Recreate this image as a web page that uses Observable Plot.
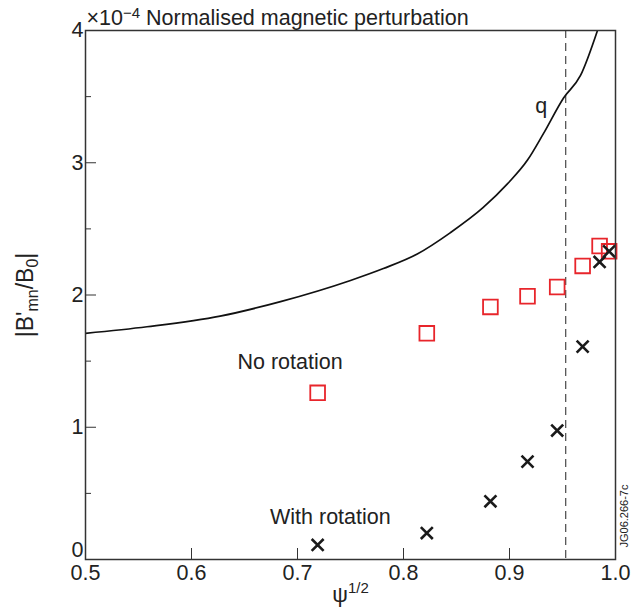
<!DOCTYPE html>
<html><head><meta charset="utf-8">
<script src="https://cdn.jsdelivr.net/npm/d3@7"></script>
<script src="https://cdn.jsdelivr.net/npm/@observablehq/plot@0.6"></script>
<style>body{margin:0;background:#fff} svg{font-family:"Liberation Sans",Arial,Helvetica,sans-serif}</style>
</head><body><div id="chart"></div>
<script>
// data
const psiPoints = [0.719, 0.822, 0.882, 0.917, 0.945, 0.969, 0.985, 0.994];
const bNoRotation = [1.26, 1.71, 1.91, 1.99, 2.06, 2.22, 2.37, 2.33];
const bWithRotation = [0.11, 0.20, 0.44, 0.74, 0.975, 1.61, 2.25, 2.33];
const psiQ = [0.5, 0.558, 0.627, 0.684, 0.75, 0.781, 0.813, 0.844, 0.875, 0.898, 0.917, 0.932, 0.951, 0.967, 0.983];
const qCurve = [1.71, 1.76, 1.84, 1.95, 2.11, 2.20, 2.31, 2.47, 2.66, 2.84, 3.02, 3.22, 3.49, 3.66, 4.0];
const dashedPsi = [0.953];
const xTicks = [0.5, 0.6, 0.7, 0.8, 0.9, 1.0];
const yTicks = [1, 2, 3, 4];
const yZeroTick = [0];
const yMinorTicks = [0.5, 1.5, 2.5, 3.5];
const annotations = [
  {x: 0.693, y: 1.49, text: "No rotation"},
  {x: 0.731, y: 0.32, text: "With rotation"},
  {x: 0.930, y: 3.43, text: "q"}
];

const squares = psiPoints.map((x, i) => ({x, y: bNoRotation[i]}));
const crosses = psiPoints.map((x, i) => ({x, y: bWithRotation[i]}));
const qData = psiQ.map((x, i) => ({x, y: qCurve[i]}));

const FS = 21.5;
const chart = Plot.plot({
  width: 643, height: 616,
  marginLeft: 85, marginRight: 28, marginTop: 30, marginBottom: 57,
  x: {domain: [0.5, 1.0]},
  y: {domain: [0, 4]},
  style: {fontFamily: '"Liberation Sans", Arial, sans-serif', fontSize: FS + "px", color: "#222", background: "#fff"},
  marks: [
    Plot.ruleX(dashedPsi, {stroke: "#555", strokeWidth: 1.3, strokeDasharray: "8,5"}),
    Plot.line(qData, {x: "x", y: "y", stroke: "#111", strokeWidth: 1.7, curve: "monotone-x", clip: true}),
    Plot.dot(squares, {x: "x", y: "y", symbol: "square", r: 8.3, stroke: "#e8252b", strokeWidth: 1.8, fill: "none"}),
    Plot.dot(crosses, {x: "x", y: "y", symbol: "times", r: 5.5, stroke: "#1a1a1a", strokeWidth: 2.6}),
    Plot.text(annotations, {x: "x", y: "y", text: "text", fontSize: FS, fill: "#222"}),
    Plot.frame({stroke: "#333", strokeWidth: 1.5}),
    Plot.axisX({ticks: xTicks, tickSize: -11, tickPadding: 16, tickFormat: d3.format(".1f"), fontSize: FS, label: null, stroke: "#333"}),
    Plot.axisY({ticks: yTicks, tickSize: -11, tickPadding: 13, tickFormat: d3.format("d"), fontSize: FS, label: null, stroke: "#333"}),
    Plot.axisY({ticks: yZeroTick, tickSize: 0, tickPadding: 2, tickFormat: d3.format("d"), fontSize: FS, label: null, dy: -9}),
    Plot.axisY({ticks: yMinorTicks, tickSize: -6, tickFormat: () => "", label: null, stroke: "#333"}),
    Plot.text(["×10−4 Normalised magnetic perturbation"], {frameAnchor: "top-left", textAnchor: "start", lineAnchor: "bottom", dx: 1, dy: -6, fontSize: FS, fill: "#222", className: "ttl"}),
    Plot.text(["|B'mn/B0|"], {frameAnchor: "left", textAnchor: "middle", lineAnchor: "middle", rotate: -90, dx: -60, fontSize: 23, fill: "#222", className: "ylab"}),
    Plot.text(["ψ1/2"], {frameAnchor: "bottom", textAnchor: "middle", dx: 0, dy: 42, fontSize: 22, fill: "#222", className: "xlab"}),
    Plot.text(["JG06.266-7c"], {frameAnchor: "bottom-right", rotate: -90, textAnchor: "start", dx: 12, dy: -12, fontSize: 11, fill: "#222"})
  ]
});
document.getElementById("chart").appendChild(chart);

const svg = d3.select(chart);
function rich(sel, parts) {
  const t = svg.select(sel + " text");
  t.text(null);
  parts.forEach(([s, dy, size]) => {
    const ts = t.append("tspan").text(s);
    if (dy) ts.attr("dy", dy);
    if (size) ts.attr("font-size", size);
  });
}
rich(".ttl", [["×10"], ["−4", "-0.45em", "15px"], [" Normalised magnetic perturbation", "0.32em"]]);
rich(".ylab", [["|B'"], ["mn", "0.3em", "16px"], ["/B", "-0.21em"], ["0", "0.3em", "16px"], ["|", "-0.21em"]]);
rich(".xlab", [["ψ"], ["1/2", "-0.55em", "15px"]]);
</script></body></html>
